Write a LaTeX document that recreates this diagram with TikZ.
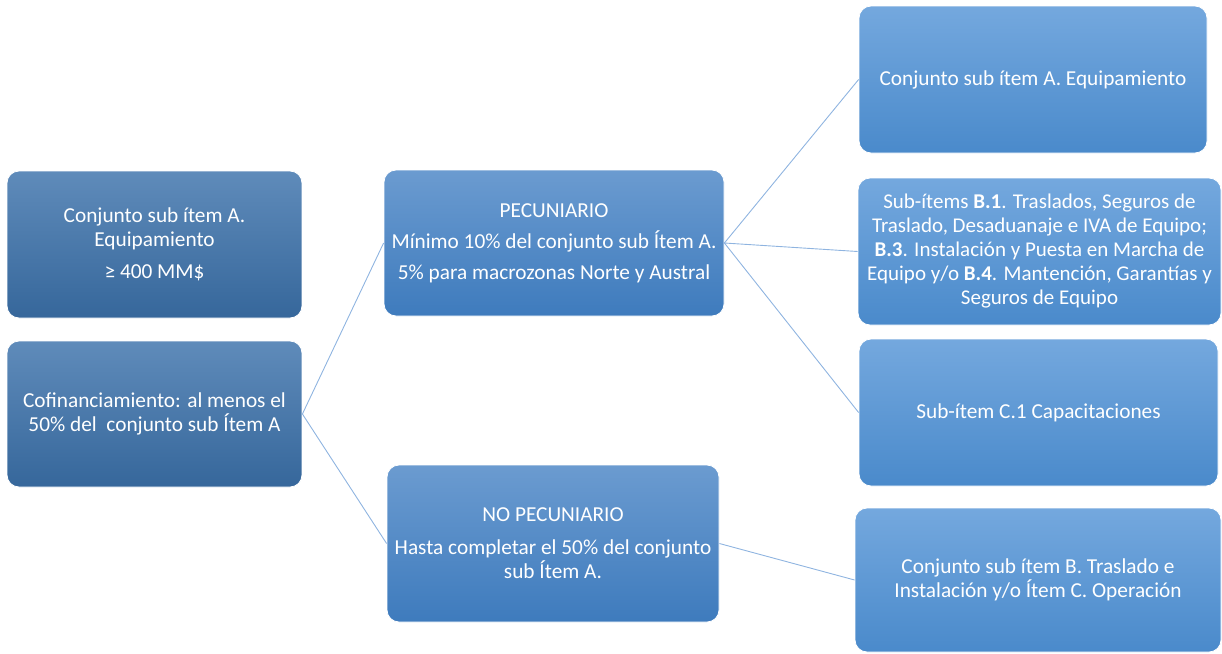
\documentclass[tikz,border=0pt]{standalone}
\usepackage{fontspec}
\setmainfont{Carlito}
\tikzset{
  box/.style={rounded corners=12pt, align=center, text=white, inner sep=2pt,
    draw=white, line width=0.8pt, font=\fontsize{21.3}{24}\selectfont},
  leftbox/.style={box, top color=leftTop, bottom color=leftBot},
  midbox/.style={box, top color=midTop, bottom color=midBot},
  rightbox/.style={box, top color=rightTop, bottom color=rightBot},
  link/.style={draw=linkBlue, line width=0.9pt}
}
\definecolor{leftTop}{HTML}{5F8BBA}
\definecolor{leftBot}{HTML}{36679B}
\definecolor{midTop}{HTML}{6B9BD0}
\definecolor{midBot}{HTML}{3E7BBD}
\definecolor{rightTop}{HTML}{74A8DE}
\definecolor{rightBot}{HTML}{4A8ACB}
\definecolor{linkBlue}{HTML}{8FB4E0}
\begin{document}
\begin{tikzpicture}[x=1pt, y=-1pt]

% Fix the page size
\useasboundingbox (0,0) rectangle (1222,653);

% Left column
\node[leftbox, minimum width=295pt, minimum height=147pt] (equipo) at (154.5,244.5)
  {Conjunto sub ítem A.\\ Equipamiento\\[8pt] ≥ 400 MM\$};
\node[leftbox, minimum width=295pt, minimum height=146pt] (cofin) at (154.5,414)
  {Cofinanciamiento: al menos el\\ 50\% del\ \ conjunto sub Ítem A};

% Middle column
\node[midbox, minimum width=340pt, minimum height=146pt] (pecun) at (554,243)
  {PECUNIARIO\\[7pt] Mínimo 10\% del conjunto sub Ítem A.\\[7pt] 5\% para macrozonas Norte y Austral};
\node[midbox, minimum width=332pt, minimum height=157pt] (nopecun) at (553,543.5)
  {NO PECUNIARIO\\[9pt] Hasta completar el 50\% del conjunto\\ sub Ítem A.};

% Right column
\node[rightbox, minimum width=348pt, minimum height=147pt] (subA) at (1033,79.5)
  {Conjunto sub ítem A. Equipamiento};
\node[rightbox, minimum width=363pt, minimum height=147pt, font=\fontsize{21}{24}\selectfont] (subB) at (1039.5,251.5)
  {Sub-ítems \textbf{B.1}. Traslados, Seguros de\\ Traslado, Desaduanaje e IVA de Equipo;\\
   \textbf{B.3}. Instalación y Puesta en Marcha de\\ Equipo y/o \textbf{B.4}. Mantención, Garantías y\\ Seguros de Equipo};
\node[rightbox, minimum width=359pt, minimum height=147pt] (subC) at (1038.5,412.5)
  {Sub-ítem C.1 Capacitaciones};
\node[rightbox, minimum width=366pt, minimum height=144pt] (subBC) at (1038,580)
  {Conjunto sub ítem B. Traslado e\\ Instalación y/o Ítem C. Operación};

% Connectors
\draw[link] (cofin.east) -- (pecun.west);
\draw[link] (cofin.east) -- (nopecun.west);
\draw[link] (pecun.east) -- (subA.west);
\draw[link] (pecun.east) -- (subB.west);
\draw[link] (pecun.east) -- (subC.west);
\draw[link] (nopecun.east) -- (subBC.west);

\end{tikzpicture}
\end{document}
